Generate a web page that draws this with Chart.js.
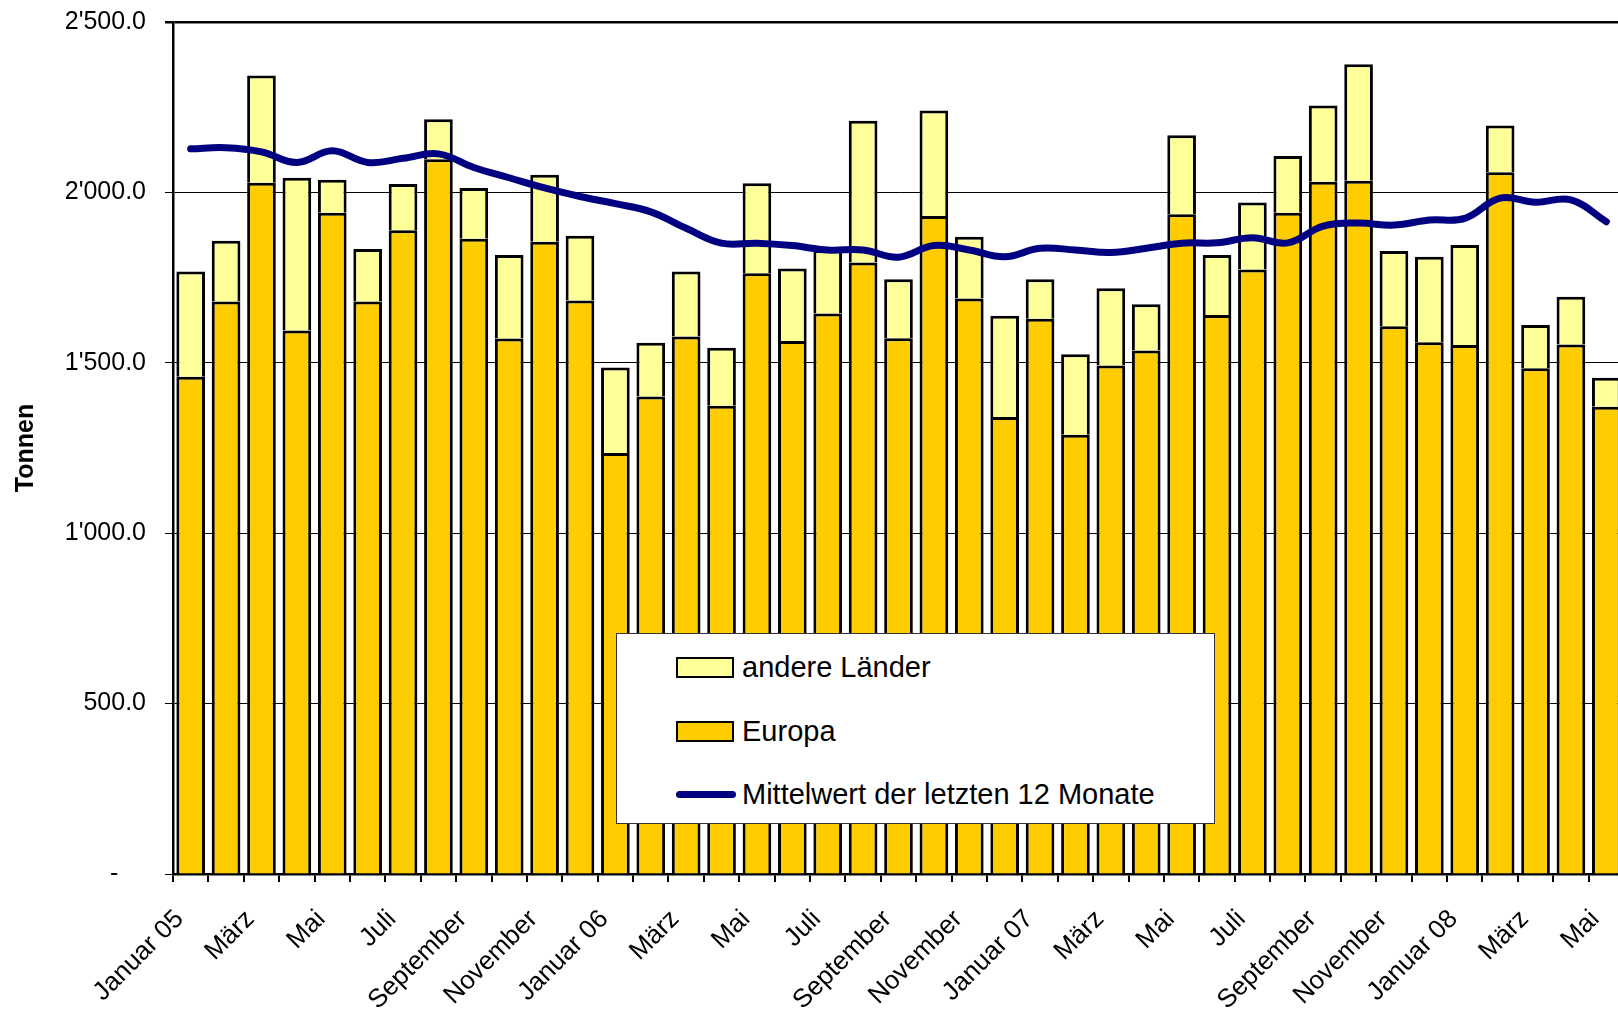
<!DOCTYPE html>
<html lang="de">
<head>
<meta charset="utf-8">
<title>Tonnen</title>
<script src="https://cdn.jsdelivr.net/npm/chart.js@4.4.0/dist/chart.umd.min.js"></script>
<style>
  html, body { margin: 0; padding: 0; background: #fff; overflow: hidden; }
  #wrap { position: relative; width: 1624px; height: 1011px; }
  #legende {
    position: absolute; left: 616px; top: 633px; width: 597px; height: 189px;
    background: #fff; border: 1px solid #333;
    font-family: "Liberation Sans", Arial, sans-serif; font-size: 29px; color: #000;
  }
  #legende .eintrag { position: absolute; left: 59px; height: 34px; line-height: 34px; white-space: nowrap; }
  #legende .box { display: inline-block; width: 54px; height: 17px; border: 2px solid #000; vertical-align: middle; margin-right: 8px; position: relative; top: -2px; }
  #legende .linie { display: inline-block; width: 60px; height: 7px; border-radius: 4px; vertical-align: middle; margin-right: 6px; position: relative; top: -2px; }
</style>
</head>
<body>
<div id="wrap">
  <canvas id="chart" width="1624" height="1011"></canvas>
  <div id="legende"></div>
</div>
<script>
// ==================== DATEN ====================
var monate = [
  'Januar 05', 'Februar', 'März', 'April', 'Mai', 'Juni', 'Juli', 'August', 'September', 'Oktober', 'November', 'Dezember',
  'Januar 06', 'Februar', 'März', 'April', 'Mai', 'Juni', 'Juli', 'August', 'September', 'Oktober', 'November', 'Dezember',
  'Januar 07', 'Februar', 'März', 'April', 'Mai', 'Juni', 'Juli', 'August', 'September', 'Oktober', 'November', 'Dezember',
  'Januar 08', 'Februar', 'März', 'April', 'Mai'
];

var europa = [
  1459, 1680, 2028, 1595, 1940, 1680, 1889, 2097, 1864, 1571, 1855, 1683,
  1235, 1401, 1577, 1374, 1763, 1564, 1645, 1794, 1572, 1931, 1689, 1341,
  1629, 1289, 1492, 1536, 1936, 1640, 1774, 1940, 2031, 2034, 1607, 1560,
  1552, 2059, 1484, 1554, 1371
];

var andereLaender = [
  309, 178, 315, 448, 97, 154, 136, 118, 149, 245, 197, 190,
  251, 158, 191, 170, 264, 213, 186, 416, 173, 309, 181, 297,
  116, 236, 227, 136, 232, 176, 196, 167, 224, 342, 221, 251,
  294, 137, 127, 140, 85
];

var mittelwert12 = [
  2128, 2131, 2119, 2088, 2122, 2088, 2100, 2113, 2073, 2043, 2013, 1988,
  1967, 1943, 1895, 1851, 1851, 1844, 1831, 1831, 1810, 1844, 1831, 1811,
  1836, 1831, 1824, 1836, 1851, 1852, 1867, 1852, 1901, 1910, 1904, 1919,
  1924, 1983, 1971, 1978, 1914
];

var yTicks = [0, 500, 1000, 1500, 2000, 2500];

var schrift = '"Liberation Sans", Arial, sans-serif';

// ==================== HILFSFUNKTIONEN ====================
function formatTonnen(v) {
  if (v === 0) return '-    ';
  var s = v.toFixed(1);
  var teile = s.split('.');
  var ganz = teile[0].replace(/\B(?=(\d{3})+(?!\d))/g, "'");
  return ganz + '.' + teile[1];
}

// ==================== CHART ====================
function initChart() {
  var ctx = document.getElementById('chart').getContext('2d');
  return new Chart(ctx, {
    type: 'bar',
    data: {
      labels: monate,
      datasets: [
        {
          type: 'line',
          label: 'Mittelwert der letzten 12 Monate',
          data: mittelwert12,
          stack: 'mw',
          order: 0,
          borderColor: '#000080',
          backgroundColor: '#000080',
          borderWidth: 7,
          borderCapStyle: 'round',
          borderJoinStyle: 'round',
          pointRadius: 0,
          tension: 0.4,
          fill: false
        },
        {
          label: 'Europa',
          data: europa,
          stack: 'laender',
          order: 1,
          backgroundColor: '#FFCC00',
          borderColor: '#000',
          borderWidth: 3,
          categoryPercentage: 1,
          barPercentage: 0.81
        },
        {
          label: 'andere Länder',
          data: andereLaender,
          stack: 'laender',
          order: 2,
          backgroundColor: '#FFFF99',
          borderColor: '#000',
          borderWidth: 3,
          categoryPercentage: 1,
          barPercentage: 0.81
        }
      ]
    },
    options: {
      responsive: false,
      animation: false,
      devicePixelRatio: 1,
      layout: { padding: { top: 22, left: 0, right: 0, bottom: 0 } },
      plugins: {
        legend: { display: false },
        tooltip: { enabled: false }
      },
      scales: {
        x: {
          stacked: true,
          afterFit: function (scale) {
            scale.height = 137;
            scale.paddingLeft = 0;
            scale.paddingRight = 0;
          },
          grid: {
            display: true,
            drawOnChartArea: false,
            drawTicks: true,
            offset: true,
            tickLength: 8,
            color: '#000',
            lineWidth: 2
          },
          border: { display: true, color: '#000', width: 2.5 },
          ticks: {
            autoSkip: false,
            maxRotation: 45,
            minRotation: 45,
            padding: 22,
            labelOffset: -11,
            color: '#000',
            font: { family: schrift, size: 26 },
            callback: function (val, i) {
              return i % 2 === 0 ? monate[i] : '';
            }
          }
        },
        y: {
          stacked: true,
          min: 0,
          max: 2500,
          afterFit: function (scale) {
            scale.width = 173;
            scale.paddingTop = 0;
            scale.paddingBottom = 0;
          },
          afterBuildTicks: function (scale) {
            scale.ticks = yTicks.map(function (v) { return { value: v }; });
          },
          grid: {
            color: '#000',
            lineWidth: function (c) { return c.tick && c.tick.value === 2500 ? 2.5 : 1; },
            drawTicks: true,
            tickLength: 8
          },
          border: { display: true, color: '#000', width: 2.5 },
          ticks: {
            padding: 19,
            color: '#000',
            font: { family: schrift, size: 25 },
            callback: function (v) { return formatTonnen(v); }
          },
          title: {
            display: true,
            text: 'Tonnen',
            color: '#000',
            font: { family: schrift, size: 25, weight: 'bold' },
            padding: { top: 11, bottom: 0 }
          }
        }
      }
    }
  });
}

// ==================== LEGENDE ====================
function baueLegende(chart) {
  var el = document.getElementById('legende');
  var reihenfolge = [2, 1, 0];
  var tops = [16, 80, 143];
  reihenfolge.forEach(function (idx, n) {
    var ds = chart.data.datasets[idx];
    var row = document.createElement('div');
    row.className = 'eintrag';
    row.style.top = tops[n] + 'px';
    var sym = document.createElement('span');
    if (ds.type === 'line') {
      sym.className = 'linie';
      sym.style.background = ds.borderColor;
    } else {
      sym.className = 'box';
      sym.style.background = ds.backgroundColor;
    }
    row.appendChild(sym);
    row.appendChild(document.createTextNode(ds.label));
    el.appendChild(row);
  });
}

var chart = initChart();
baueLegende(chart);
</script>
</body>
</html>
